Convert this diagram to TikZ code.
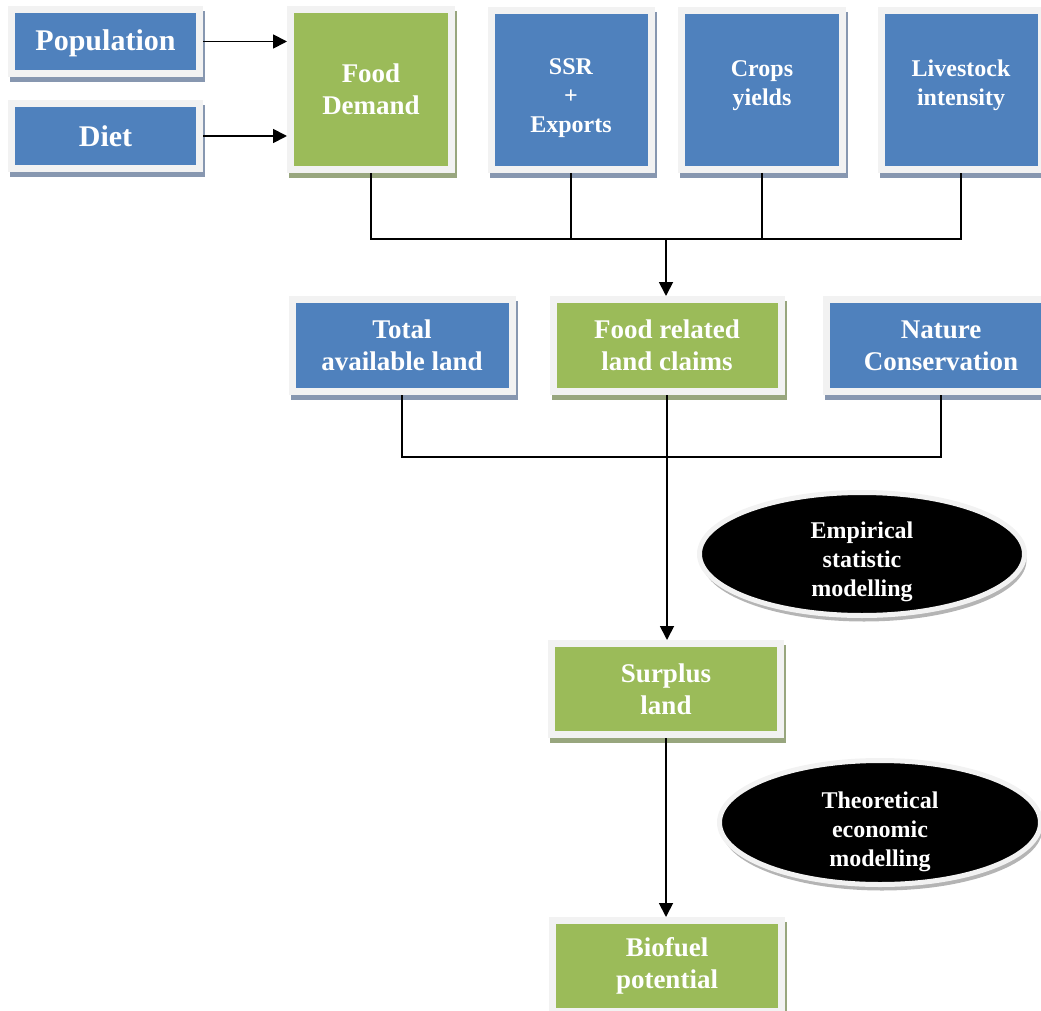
\documentclass[tikz,border=0pt]{standalone}
\usepackage{fontspec}
\setmainfont{Liberation Serif}
\usepackage{tikz}
\usetikzlibrary{arrows.meta, positioning, shapes.geometric, shadows}
\definecolor{boxblue}{HTML}{4F81BD}
\definecolor{boxgreen}{HTML}{9BBB59}
\definecolor{boxrim}{HTML}{F2F2F2}
\definecolor{blueshade}{HTML}{8797B0}
\definecolor{greenshade}{HTML}{98A67E}
\definecolor{ovalshade}{HTML}{B4B4B4}

\begin{document}
\begin{tikzpicture}[x=1pt, y=-1pt,
  box/.style={rectangle, draw=boxrim, line width=7pt, text=white, align=center,
              inner sep=0pt, font=\bfseries\fontsize{27}{32}\selectfont},
  bluebox/.style={box, fill=boxblue, drop shadow={shadow xshift=2pt, shadow yshift=-5pt,
              fill=blueshade, draw=blueshade, line width=7pt, opacity=1}},
  greenbox/.style={box, fill=boxgreen, drop shadow={shadow xshift=2pt, shadow yshift=-5pt,
              fill=greenshade, draw=greenshade, line width=7pt, opacity=1}},
  smalltext/.style={font=\bfseries\fontsize{24}{29}\selectfont},
  oval/.style={ellipse, fill=black, draw=boxrim, line width=5pt, text=white, align=center,
              inner sep=0pt, font=\bfseries\fontsize{24}{29}\selectfont, text depth=0pt,
              drop shadow={shadow xshift=2pt, shadow yshift=-6pt, fill=ovalshade, opacity=1}},
  link/.style={line width=1.8pt},
  arr/.style={link, -{Triangle[length=14pt, width=14pt]}}]
  \path[use as bounding box, clip] (0,0) rectangle (1041,1011);

  \node[bluebox, minimum width=188pt, minimum height=64pt, text depth=2pt,
        font=\bfseries\fontsize{30}{34}\selectfont] (pop) at (105.5,41.5) {Population};
  \node[bluebox, minimum width=188pt, minimum height=65pt,
        font=\bfseries\fontsize{30}{34}\selectfont, below=23pt of pop] (diet) {Diet};

  \node[greenbox, minimum width=161pt, minimum height=160pt] (food) at (371,89.5) {Food\\Demand};
  \node[bluebox, smalltext, minimum width=160pt, minimum height=159pt, text height=91pt]
    (ssr) at (571,90) {SSR\\+\\Exports};
  \node[bluebox, smalltext, minimum width=161pt, minimum height=159pt, text depth=14pt]
    (crops) at (762,90) {Crops\\yields};
  \node[bluebox, smalltext, minimum width=160pt, minimum height=159pt, text depth=14pt]
    (live) at (961,90) {Livestock\\intensity};

  \node[bluebox, minimum width=220pt, minimum height=92pt] (total) at (402,345.5) {Total\\available land};
  \node[greenbox, minimum width=228pt, minimum height=92pt] (claims) at (667,345.5) {Food related\\land claims};
  \node[bluebox, minimum width=229pt, minimum height=92pt] (nature) at (941,345.5) {Nature\\Conservation};

  \node[greenbox, minimum width=229pt, minimum height=91pt] (surplus) at (666,689) {Surplus\\land};
  \node[greenbox, minimum width=229pt, minimum height=91pt] (bio) at (667,966) {Biofuel\\potential};

  \node[oval, minimum width=325pt, minimum height=123pt, text height=84pt] (empirical) at (862,554)
    {Empirical\\statistic\\modelling};
  \node[oval, minimum width=321pt, minimum height=124pt, text height=87pt] (theory) at (880,822.5)
    {Theoretical\\economic\\modelling};

  \coordinate (hub1) at (666,239);
  \coordinate (hub2) at (667,457);

  \draw[arr] (pop.east) -- (pop.east -| food.west);
  \draw[arr] (diet.east) -- (diet.east -| food.west);
  \draw[link] (food.south) |- (hub1) -| (live.south);
  \draw[link] (ssr.south) -- (ssr.south |- hub1);
  \draw[link] (crops.south) -- (crops.south |- hub1);
  \draw[arr] (hub1) -- (hub1 |- claims.north);
  \draw[link] (total.south) |- (hub2) -| (nature.south);
  \draw[link] (claims.south) -- (hub2);
  \draw[arr] (hub2) -- (hub2 |- surplus.north);
  \draw[arr] (surplus.south) -- (surplus.south |- bio.north);
\end{tikzpicture}
\end{document}
